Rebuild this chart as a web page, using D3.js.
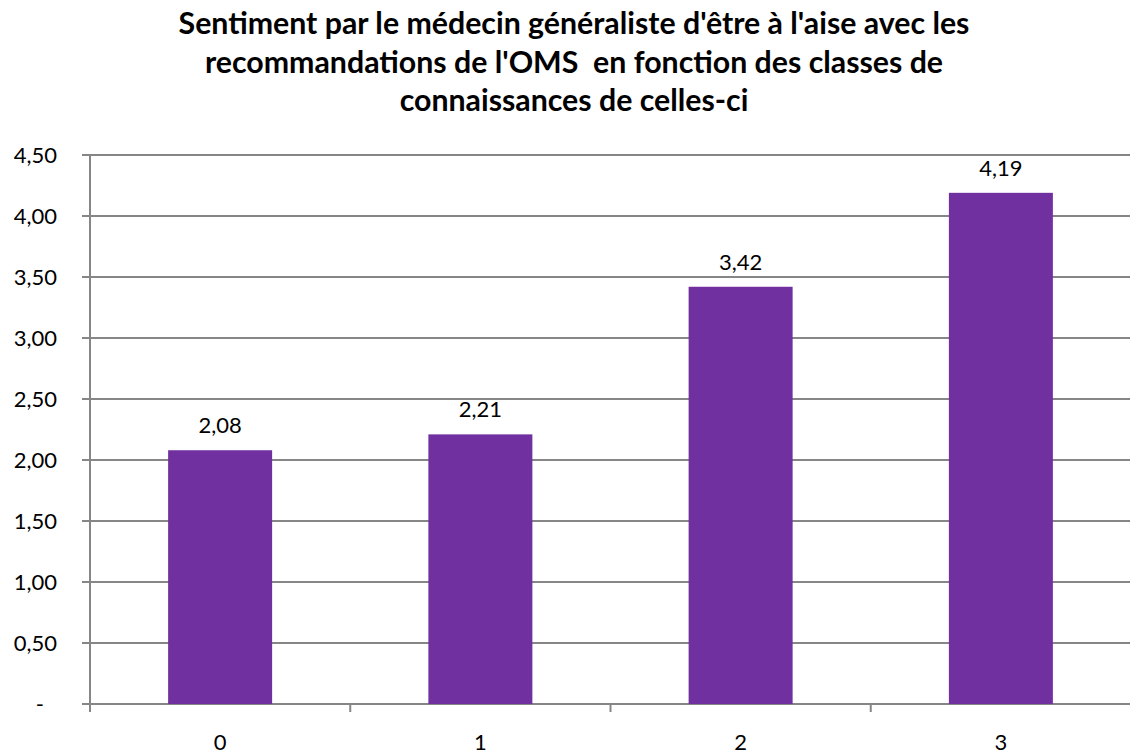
<!DOCTYPE html>
<html>
<head>
<meta charset="utf-8">
<script src="https://cdn.jsdelivr.net/npm/d3@7"></script>
<style>
  body { margin: 0; background: #fff; }
  svg { display: block; font-family: Lato, "Open Sans", sans-serif; }
</style>
</head>
<body>
<div id="chart"></div>
<script>
// data
const categories = ["0", "1", "2", "3"];
const values = [2.08, 2.21, 3.42, 4.19];
const yTicks = [0, 0.5, 1, 1.5, 2, 2.5, 3, 3.5, 4, 4.5];
const titleLines = [
    "Sentiment par le médecin généraliste d'être à l'aise avec les",
    "recommandations de l'OMS  en fonction des classes de",
    "connaissances de celles-ci"
];

const width = 1130, height = 754;
const margin = {top: 155, right: -1, bottom: 50, left: 90};
const innerW = width - margin.left - margin.right;
const innerH = height - margin.top - margin.bottom;

const svg = d3.select("#chart").append("svg")
    .attr("width", width).attr("height", height);

// title - sized so first line spans roughly like the original
const title = svg.append("text")
    .attr("x", 574).attr("y", 34)
    .attr("text-anchor", "middle")
    .style("font-weight", "bold").style("font-size", "23px")
    .style("white-space", "pre");
title.selectAll("tspan")
    .data(titleLines)
    .join("tspan")
    .attr("x", 574)
    .attr("dy", (d, i) => i === 0 ? 0 : 38.5)
    .text(d => d);
const w1 = title.select("tspan").node().getComputedTextLength();
title.style("font-size", (23 * 791 / w1) + "px");

const g = svg.append("g").attr("transform", `translate(${margin.left},${margin.top})`);

const xCat = d3.scaleBand().domain(categories).range([0, innerW]);
const y = d3.scaleLinear().domain([0, 4.5]).range([innerH, 0]);

const fmt = v => v === 0 ? "-" : d3.format(".2f")(v).replace(".", ",");

// gridlines
g.append("g")
    .selectAll("line")
    .data(yTicks)
    .join("line")
    .attr("x1", -8).attr("x2", innerW)
    .attr("y1", d => y(d)).attr("y2", d => y(d))
    .attr("stroke", "#868686").attr("stroke-width", 2);

// y axis line
g.append("line")
    .attr("x1", 0).attr("x2", 0).attr("y1", 0).attr("y2", innerH + 8)
    .attr("stroke", "#868686").attr("stroke-width", 2);

// y labels
g.append("g")
    .selectAll("text")
    .data(yTicks)
    .join("text")
    .attr("x", d => d === 0 ? -46 : -33)
    .attr("y", d => y(d))
    .attr("dy", "0.35em")
    .attr("text-anchor", "end")
    .style("font-size", "22px").attr("fill", "#000")
    .text(fmt);

// x ticks
g.append("g")
    .selectAll("line")
    .data(categories.slice(1))
    .join("line")
    .attr("x1", d => xCat(d)).attr("x2", d => xCat(d))
    .attr("y1", innerH).attr("y2", innerH + 8)
    .attr("stroke", "#868686").attr("stroke-width", 2);

g.append("g")
    .selectAll("text")
    .data(categories)
    .join("text")
    .attr("x", d => xCat(d) + xCat.bandwidth() / 2)
    .attr("y", innerH + 46)
    .attr("text-anchor", "middle")
    .style("font-size", "22px")
    .text(d => d);

// bars
g.append("g")
    .selectAll("rect")
    .data(values)
    .join("rect")
    .attr("x", (d, i) => xCat(categories[i]) + xCat.bandwidth() / 2 - 52)
    .attr("width", 104)
    .attr("y", d => y(d))
    .attr("height", d => innerH - y(d))
    .attr("fill", "#7030A0");

// value labels
g.append("g")
    .selectAll("text")
    .data(values)
    .join("text")
    .attr("x", (d, i) => xCat(categories[i]) + xCat.bandwidth() / 2)
    .attr("y", d => y(d) - 17)
    .attr("text-anchor", "middle")
    .style("font-size", "22px")
    .text(d => d3.format(".2f")(d).replace(".", ","));
</script>
</body>
</html>
